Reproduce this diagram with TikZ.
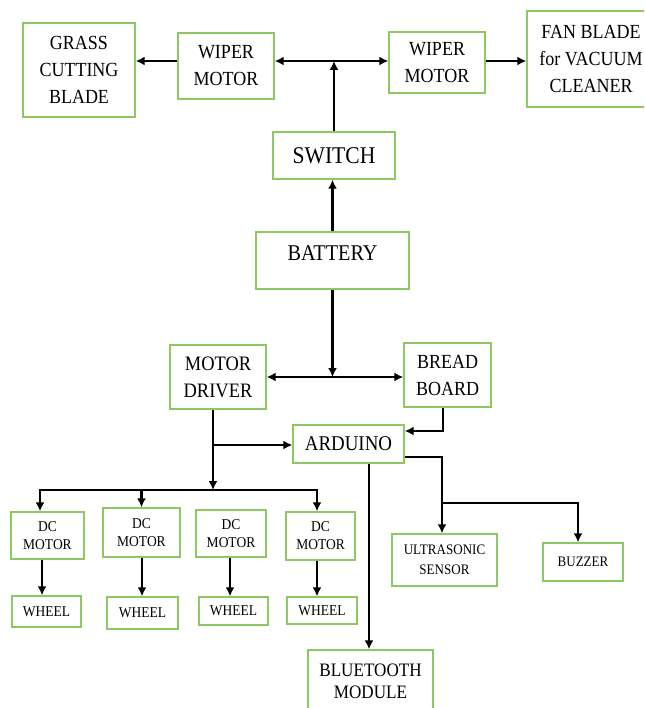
\documentclass[tikz,border=0pt]{standalone}
\usepackage{fontspec}
\usepackage{graphicx}
\setmainfont{Liberation Serif}
\usetikzlibrary{arrows.meta}
\definecolor{boxgreen}{RGB}{142,200,98}
\newcommand\tb[1]{\scalebox{1.0}[1.111]{#1}}
\newcommand\ts[1]{\scalebox{0.9}[1]{#1}}
\newcommand\tx[3]{\scalebox{#1}[#2]{#3}}
\tikzset{
  box/.style={draw=boxgreen, line width=1.4pt, align=center, inner sep=0pt, text=black},
  conn/.style={line width=2.6pt, -{Latex[length=9pt,width=9pt]}},
  plain/.style={line width=2.6pt},
  big/.style={font=\fontsize{18}{27}\selectfont},
  small/.style={font=\fontsize{15}{18}\selectfont},
}
\begin{document}
\begin{tikzpicture}[x=1pt,y=-1pt]
\useasboundingbox (0,0) rectangle (644,708);
\clip (0,0) rectangle (644,708);
% top row
\node[box,big,minimum width=112pt,minimum height=94pt] (grass) at (79,70) {\tb{GRASS}\\\tb{CUTTING}\\\tb{BLADE}};
\node[box,big,minimum width=96pt,minimum height=66pt] (wiperL) at (226,66) {\tb{WIPER}\\\tb{MOTOR}};
\node[box,big,minimum width=96pt,minimum height=61pt] (wiperR) at (437,62.5) {\tb{WIPER}\\\tb{MOTOR}};
\node[box,big,minimum width=128pt,minimum height=96pt] (fan) at (591,59) {\tb{FAN BLADE}\\\tb{for VACUUM}\\\tb{CLEANER}};
\node[box,big,minimum width=122pt,minimum height=47pt] (switch) at (334,155.5) {\tx{1.2}{1.333}{SWITCH}};
\node[box,big,text height=15pt,text depth=16pt,minimum width=153pt,minimum height=57pt] (battery) at (332.5,260.5) {\tx{1.125}{1.25}{BATTERY}};
% middle
\node[box,big,minimum width=96pt,minimum height=64pt] (md) at (218,377) {\tx{1.025}{1.139}{MOTOR}\\\tx{1.025}{1.139}{DRIVER}};
\node[box,big,minimum width=87pt,minimum height=64pt] (bb) at (447.5,375) {\tb{BREAD}\\\tb{BOARD}};
\node[box,big,minimum width=111pt,minimum height=38pt] (ard) at (348.5,444) {\tx{1.05}{1.167}{ARDUINO}};
% dc motors and wheels
\node[box,small,minimum width=73pt,minimum height=47pt] (dc1) at (47.5,535.5) {\ts{DC}\\\ts{MOTOR}};
\node[box,small,minimum width=77pt,minimum height=49pt] (dc2) at (141.5,532.5) {\ts{DC}\\\ts{MOTOR}};
\node[box,small,minimum width=70pt,minimum height=47pt] (dc3) at (231,533.5) {\ts{DC}\\\ts{MOTOR}};
\node[box,small,minimum width=69pt,minimum height=48pt] (dc4) at (320.5,536) {\ts{DC}\\\ts{MOTOR}};
\node[box,small,minimum width=69pt,minimum height=31pt] (wh1) at (46.5,611.5) {\ts{WHEEL}};
\node[box,small,minimum width=71pt,minimum height=32pt] (wh2) at (142.5,613) {\ts{WHEEL}};
\node[box,small,minimum width=69pt,minimum height=28pt] (wh3) at (233.5,611) {\ts{WHEEL}};
\node[box,small,minimum width=70pt,minimum height=27pt] (wh4) at (322,610.5) {\ts{WHEEL}};
% sensors
\node[box,font=\fontsize{14.5}{20}\selectfont,minimum width=105pt,minimum height=52pt] (us) at (444.5,560) {\ts{ULTRASONIC}\\\ts{SENSOR}};
\node[box,font=\fontsize{14.5}{20}\selectfont,minimum width=80pt,minimum height=38pt] (bz) at (583,562) {\ts{BUZZER}};
\node[box,font=\fontsize{17}{22}\selectfont,minimum width=125pt,minimum height=62pt] (bt) at (370.5,681) {\tx{1.006}{1.118}{BLUETOOTH}\\\tx{1.006}{1.118}{MODULE}};
% coordinates
\coordinate (jt) at (334,61);
\coordinate (jb) at (332.5,377);
\coordinate (bbd) at (443,431);
\coordinate (mdx) at (213,445);
\coordinate (bus) at (213,490);
\coordinate (busL) at (40,490);
\coordinate (busR) at (317,490);
\coordinate (ar) at (442,503);
\coordinate (bzx) at (578,503);
\coordinate (btx) at (369,0);
% connectors top
\draw[conn] (jt) -- (wiperL.east |- jt);
\draw[conn] (jt) -- (wiperR.west |- jt);
\draw[conn] (switch.north) -- (jt);
\draw[conn] (wiperL.west |- jt) -- (grass.east |- jt);
\draw[conn] (wiperR.east |- jt) -- (fan.west |- jt);
\draw[conn] (battery.north) -- (battery.north |- switch.south);
% middle connectors
\draw[conn] (battery.south) -- (jb);
\draw[conn] (jb) -- (md.east |- jb);
\draw[conn] (jb) -- (bb.west |- jb);
\draw[conn] (bb.south -| bbd) -- (bbd) -- (ard.east |- bbd);
\draw[conn] (md.south -| mdx) -- (bus);
\draw[conn] (mdx) -- (ard.west |- mdx);
% bus to motors
\draw[conn] (bus) -- (busL) -- (busL |- dc1.north);
\draw[conn] (bus) -- (busR) -- (busR |- dc4.north);
\draw[conn] (dc2.north |- bus) -- (dc2.north);
% motors to wheels
\draw[conn] ([xshift=-5.5pt]dc1.south) -- ([xshift=-5.5pt]dc1.south |- wh1.north);
\draw[conn] ([xshift=0.5pt]dc2.south) -- ([xshift=0.5pt]dc2.south |- wh2.north);
\draw[conn] ([xshift=-1pt]dc3.south) -- ([xshift=-1pt]dc3.south |- wh3.north);
\draw[conn] ([xshift=-3.5pt]dc4.south) -- ([xshift=-3.5pt]dc4.south |- wh4.north);
% arduino outputs
\draw[plain] ([yshift=-13pt]ard.east) -| (ar);
\draw[conn] (ar) -- (ar |- us.north);
\draw[conn] (ar) -- (bzx) -- (bzx |- bz.north);
\draw[conn] (ard.south -| btx) -- (bt.north -| btx);
\end{tikzpicture}
\end{document}
